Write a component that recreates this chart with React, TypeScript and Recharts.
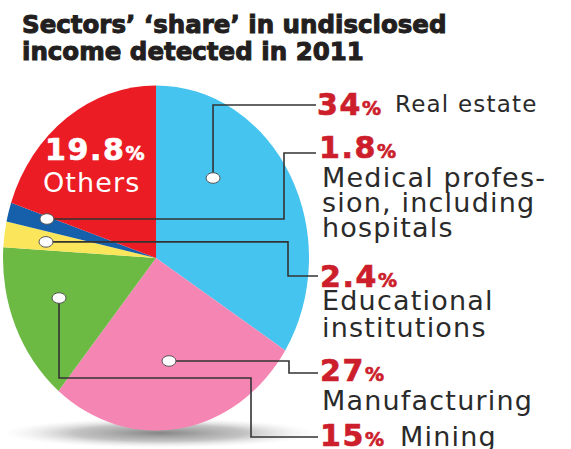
import React from 'react';
import { PieChart, Pie, Cell } from 'recharts';

// ---- data ----
const CATEGORIES = [
  'Real estate',
  'Manufacturing',
  'Mining',
  'Educational institutions',
  'Medical profession, including hospitals',
  'Others',
];
const SHARES = [34, 27, 15, 2.4, 1.8, 19.8];
const VALUE_LABELS = ['34', '27', '15', '2.4', '1.8', '19.8'];
const LABEL_LINES = [
  ['Real estate'],
  ['Manufacturing'],
  ['Mining'],
  ['Educational', 'institutions'],
  ['Medical profes-', 'sion, including', 'hospitals'],
  ['Others'],
];
const TITLE_LINES = ['Sectors\u2019 \u2018share\u2019 in undisclosed', 'income detected in 2011'];

// ---- styling / layout ----
const COLORS = ['#46c4f0', '#f586b4', '#6cb944', '#fbe55a', '#155fab', '#eb1c24'];
const RED_TEXT = '#cc1e2b';
const DARK_TEXT = '#2a2a2a';
const LINE_COLOR = '#333333';
const W = 571;
const H = 449;
const CX = 156;
const CY = 258;
const R = 153;
const K = 172.5 / 153; // vertical stretch of the pie (ellipse)

type Route = Array<[string, number]>;
interface Ann {
  dotAngle: number;
  dotR: number;
  route: Route;
  numX: number;
  numY: number;
  inlineX?: number;
  inlineY?: number;
  inlineSize?: number;
  linesY?: number[];
}
const ANNOTATIONS: Ann[] = [
  { dotAngle: 38.8, dotR: 0.595, route: [['v', 105], ['h', 316]], numX: 317, numY: 115, inlineX: 395, inlineY: 112, inlineSize: 23 },
  { dotAngle: 171.9, dotR: 0.603, route: [['h', 289], ['v', 373], ['h', 318]], numX: 320, numY: 381, linesY: [410] },
  { dotAngle: 249.9, dotR: 0.675, route: [['v', 378], ['h', 251], ['v', 437], ['h', 318]], numX: 320, numY: 446, inlineX: 400, inlineY: 446, inlineSize: 27 },
  { dotAngle: 277.4, dotR: 0.725, route: [['h', 288], ['v', 276], ['h', 318]], numX: 320, numY: 287, linesY: [310, 337] },
  { dotAngle: 287.6, dotR: 0.748, route: [['h', 284], ['v', 153], ['h', 316]], numX: 319, numY: 158, linesY: [187, 212, 237] },
  { dotAngle: 0, dotR: 0, route: [], numX: 45, numY: 160, linesY: [192] },
];

const data = CATEGORIES.map((name, i) => ({ name, value: SHARES[i] }));

const FONT = '"DejaVu Sans", "Open Sans", sans-serif';

const NumberText = ({ x, y, fill, value }: { x: number; y: number; fill: string; value: string }) => (
  <text x={x} y={y} fill={fill} stroke={fill} strokeWidth={0.7} fontFamily={FONT} fontWeight="bold" fontSize={30} letterSpacing={1.6}>
    {value}
    <tspan fontSize={19}>%</tspan>
  </text>
);

const renderLabel = (props: any) => {
  const { index } = props;
  const cx = typeof props.cx === 'number' ? props.cx : CX;
  const cy = typeof props.cy === 'number' ? props.cy : CY;
  const outer = typeof props.outerRadius === 'number' ? props.outerRadius : R;
  const ann = ANNOTATIONS[index];
  const lines = LABEL_LINES[index];
  const num = VALUE_LABELS[index];

  if (index === 5) {
    return (
      <g key={`lab-${index}`}>
        <NumberText x={ann.numX} y={ann.numY} fill="#ffffff" value={num} />
        <text x={43} y={ann.linesY![0]} fill="#ffffff" fontFamily={FONT} fontSize={27} letterSpacing={1.1}>
          {lines[0]}
        </text>
      </g>
    );
  }

  const rad = (ann.dotAngle * Math.PI) / 180;
  const dx = cx + ann.dotR * outer * Math.sin(rad);
  const dy = cy - ann.dotR * outer * Math.cos(rad) * K;
  let px = dx;
  let py = dy;
  let d = `M${px},${py}`;
  ann.route.forEach(([dir, v]) => {
    if (dir === 'h') px = v;
    else py = v;
    d += ` L${px},${py}`;
  });

  return (
    <g key={`lab-${index}`}>
      <path d={d} fill="none" stroke={LINE_COLOR} strokeWidth={1.6} />
      <ellipse cx={dx} cy={dy} rx={7} ry={5.3} fill="#ffffff" stroke="#555" strokeWidth={1} />
      <NumberText x={ann.numX} y={ann.numY} fill={RED_TEXT} value={num} />
      {ann.inlineX !== undefined ? (
        <text x={ann.inlineX} y={ann.inlineY} fill={DARK_TEXT} fontFamily={FONT} fontSize={ann.inlineSize} letterSpacing={1.2}>
          {lines[0]}
        </text>
      ) : (
        lines.map((ln, j) => (
          <text key={j} x={322} y={ann.linesY![j]} fill={DARK_TEXT} fontFamily={FONT} fontSize={27} letterSpacing={1.2}>
            {ln}
          </text>
        ))
      )}
    </g>
  );
};

export default function App() {
  return (
    <div style={{ position: 'absolute', left: 0, top: 0, width: W, height: H, background: '#ffffff' }}>
      <style>{`
        path.recharts-sector {
          transform: scaleY(${K});
          transform-origin: ${CX}px ${CY}px;
        }
      `}</style>
      <PieChart width={W} height={H} margin={{ top: 0, right: 0, bottom: 0, left: 0 }}>
        <defs>
          <radialGradient id="pieShadow" cx="50%" cy="50%" r="50%">
            <stop offset="0%" stopColor="#7f7f7f" stopOpacity={0.95} />
            <stop offset="55%" stopColor="#b0b0b0" stopOpacity={0.75} />
            <stop offset="100%" stopColor="#e8e8e8" stopOpacity={0} />
          </radialGradient>
        </defs>
        <ellipse cx={160} cy={433} rx={158} ry={15} fill="url(#pieShadow)" />
        {TITLE_LINES.map((t, i) => (
          <text
            key={i}
            x={22}
            y={33 + i * 27}
            fill="#231f20"
            stroke="#231f20"
            strokeWidth={1}
            fontFamily={FONT}
            fontWeight="bold"
            fontSize={24.5}
          >
            {t}
          </text>
        ))}
        <Pie
          data={data}
          dataKey="value"
          nameKey="name"
          cx={CX}
          cy={CY}
          innerRadius={0}
          outerRadius={R}
          startAngle={90}
          endAngle={-270}
          stroke="none"
          isAnimationActive={false}
          labelLine={false}
          label={renderLabel}
        >
          {data.map((_, i) => (
            <Cell key={i} fill={COLORS[i]} />
          ))}
        </Pie>
      </PieChart>
    </div>
  );
}
